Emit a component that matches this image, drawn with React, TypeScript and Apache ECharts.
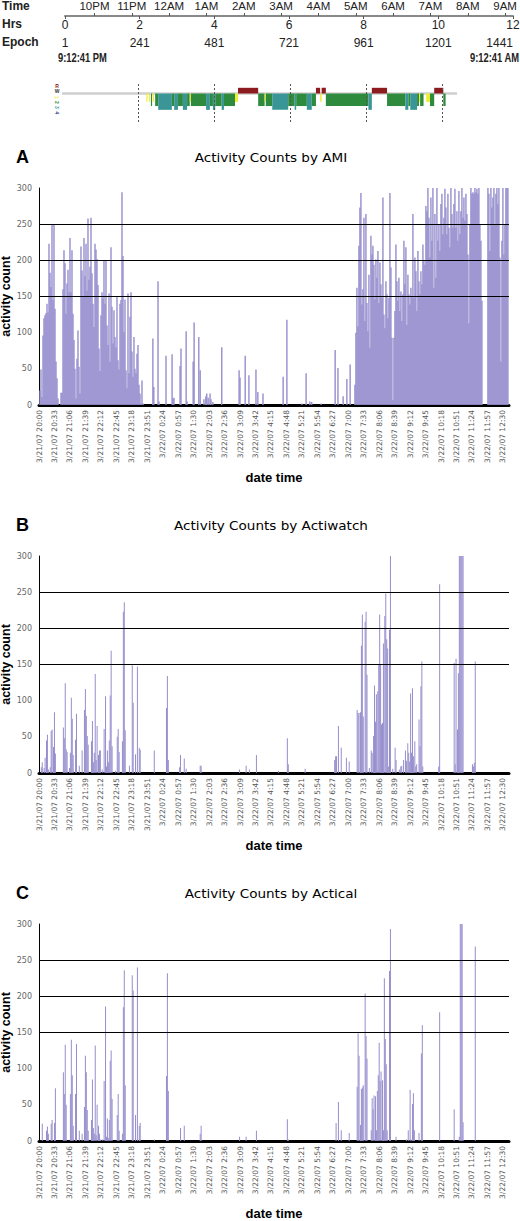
import React, { useEffect, useRef } from "react";
import * as echarts from "echarts";

// ---------- header (time / hrs / epoch) ----------
const clockLabels = ["10PM", "11PM", "12AM", "1AM", "2AM", "3AM", "4AM", "5AM", "6AM", "7AM", "8AM", "9AM"];
const firstClockOffsetHr = 0.7886; // 10PM is 47m19s after 9:12:41 PM
const hrsTicks = [0, 2, 4, 6, 8, 10, 12];
const epochLabels = ["1", "241", "481", "721", "961", "1201", "1441"];
const startLabel = "9:12:41 PM";
const endLabel = "9:12:41 AM";

// ---------- hypnogram ----------
const stageNames = ["R", "W", "1", "2", "3", "4"];
const stageLevel: Record<string, number> = { R: -1.5, W: 0, "1": 2.2, "2": 3.3, "3": 4.3, "4": 5.3 };
const stageColor: Record<string, string> = { R: "#8c1b1f", W: "#333333", "1": "#eeee30", "2": "#2e8a3c", "3": "#3a9696", "4": "#2a3a8c" };
const hypnoEndHr = 10.39;
const hypnoGuideHrs = [2, 4, 6, 8, 10];
const hypnoSegments: [number, number, string][] = [
  [2.22, 2.25, "1"], [2.29, 2.32, "1"], [2.34, 2.37, "2"], [2.39, 2.42, "1"], [2.45, 2.53, "2"],
  [2.53, 2.89, "3"], [2.89, 2.95, "2"], [2.95, 3.05, "3"], [3.05, 3.18, "2"], [3.18, 3.29, "3"],
  [3.29, 3.36, "2"], [3.36, 3.39, "1"], [3.39, 3.79, "2"], [3.79, 3.89, "3"], [3.89, 3.97, "2"],
  [3.97, 4.03, "3"], [4.03, 4.2, "2"], [4.2, 4.26, "3"], [4.26, 4.55, "2"], [4.55, 4.63, "1"],
  [4.63, 5.16, "R"], [5.16, 5.33, "2"], [5.33, 5.36, "1"], [5.36, 5.53, "2"], [5.53, 5.95, "3"],
  [5.95, 6.12, "2"], [6.12, 6.16, "3"], [6.16, 6.44, "2"], [6.44, 6.57, "3"], [6.57, 6.68, "2"],
  [6.68, 6.79, "R"], [6.79, 6.83, "1"], [6.83, 6.94, "R"], [6.94, 8.06, "2"], [8.06, 8.15, "3"],
  [8.15, 8.55, "R"], [8.55, 9.03, "2"], [9.03, 9.11, "3"], [9.11, 9.16, "2"], [9.16, 9.34, "3"],
  [9.34, 9.39, "2"], [9.39, 9.42, "1"], [9.42, 9.51, "2"], [9.58, 9.68, "1"], [9.68, 9.79, "2"],
  [9.79, 10.03, "R"], [10.03, 10.09, "2"],
];

// ---------- activity charts ----------
const dateTimeLabels = [
  "3/21/07 20:00", "3/21/07 20:33", "3/21/07 21:06", "3/21/07 21:39", "3/21/07 22:12", "3/21/07 22:45",
  "3/21/07 23:18", "3/21/07 23:51", "3/22/07 0:24", "3/22/07 0:57", "3/22/07 1:30", "3/22/07 2:03",
  "3/22/07 2:36", "3/22/07 3:09", "3/22/07 3:42", "3/22/07 4:15", "3/22/07 4:48", "3/22/07 5:21",
  "3/22/07 5:54", "3/22/07 6:27", "3/22/07 7:00", "3/22/07 7:33", "3/22/07 8:06", "3/22/07 8:39",
  "3/22/07 9:12", "3/22/07 9:45", "3/22/07 10:18", "3/22/07 10:51", "3/22/07 11:24", "3/22/07 11:57",
  "3/22/07 12:30",
];
const TICK_STEP_MIN = 33;
const X_MAX_MIN = 1003;
const yTicks = [0, 50, 100, 150, 200, 250, 300];
const gridLineValues = [150, 200, 250];

// AMI: consecutive readings (one every SAMPLE_MIN minutes) in the two active periods
const SAMPLE_MIN = 2.134;
const amiEveningStartMin = 2.1;
const amiEvening = [
  20, 49, 11, 96, 120, 124, 127, 140, 128, 223, 183, 163, 250, 145, 250, 133, 60, 37, 9, 0,
  0, 17, 17, 160, 214, 196, 126, 168, 187, 156, 231, 156, 214, 126, 90, 50, 9, 64, 103, 53,
  16, 219, 186, 150, 231, 178, 223, 158, 258, 173, 191, 259, 182, 140, 108, 223, 215, 202, 166, 78,
  47, 124, 156, 147, 200, 140, 200, 110, 83, 154, 60, 218, 136, 85, 131, 94, 80, 150, 62, 49,
  140, 145, 294, 206, 101, 146, 48, 23, 154, 44, 122, 156, 74, 39, 94, 50, 44, 71, 83, 28,
  16, 2, 34, 2,
];
const amiMorningStartMin = 674.2;
const amiMorning = [
  28, 100, 162, 109, 220, 273, 293, 139, 160, 259, 116, 264, 141, 102, 180, 79, 234, 208, 220, 194,
  146, 201, 176, 213, 141, 197, 167, 148, 287, 125, 106, 171, 153, 120, 148, 293, 190, 93, 7, 93,
  130, 222, 171, 144, 176, 130, 157, 116, 153, 227, 167, 218, 111, 180, 153, 139, 162, 150, 264, 148,
  204, 185, 130, 213, 171, 153, 185, 167, 222, 199, 194, 275, 268, 300, 259, 204, 287, 227, 300, 162,
  264, 176, 300, 227, 250, 213, 278, 292, 236, 259, 299, 273, 236, 292, 245, 218, 300, 264, 245, 278,
  299, 245, 268, 227, 296, 236, 268, 300, 259, 287, 255, 292, 264, 208, 113, 250, 300, 292, 294, 292,
  300, 294, 299, 292, 300, 250, 227, 144, 0, 0, 0, 0, 0, 300, 292, 213, 300, 273, 287, 300,
  250, 292, 300, 278, 300, 204, 60, 227, 300, 208, 250, 300, 300, 300,
];
// AMI: isolated counts during the night [minute after 20:00, count]
const amiNight: [number, number][] = [
  [243, 92], [245, 25], [254, 171], [256, 5], [271, 68], [284, 70], [286, 9], [288, 10],
  [301, 54], [303, 78], [314, 102], [316, 5], [329, 60], [331, 114], [341, 94], [344, 48],
  [352, 8], [356, 12], [358, 16], [361, 10], [365, 16], [367, 8], [371, 4], [390, 80],
  [427, 48], [429, 38], [440, 68], [448, 41], [463, 49], [467, 18], [478, 16], [521, 39],
  [529, 118], [561, 2], [570, 44], [578, 5], [582, 4], [602, 2], [632, 76], [638, 51],
  [649, 12], [657, 36], [664, 56],
];

const actiwatch: [number, number][] = [
  [5, 8], [7, 15], [11, 7], [13, 21], [16, 45], [18, 53], [20, 5], [24, 8], [26, 58], [28, 60],
  [31, 36], [33, 84], [35, 27], [52, 63], [54, 48], [56, 124], [58, 33], [60, 29], [65, 7], [67, 28],
  [69, 104], [71, 75], [73, 25], [78, 46], [80, 82], [86, 10], [92, 31], [97, 87], [99, 116], [101, 79],
  [103, 51], [105, 39], [112, 44], [114, 72], [116, 15], [118, 28], [120, 137], [122, 18], [124, 65], [127, 25],
  [129, 31], [131, 31], [135, 5], [139, 61], [142, 106], [144, 9], [146, 31], [148, 15], [150, 45], [152, 107],
  [154, 169], [156, 37], [163, 3], [167, 50], [169, 61], [171, 29], [178, 44], [180, 223], [182, 236], [184, 59],
  [193, 10], [199, 149], [201, 97], [206, 26], [210, 147], [214, 35], [216, 32], [246, 31], [272, 90], [274, 134],
  [276, 18], [300, 8], [302, 25], [310, 20], [314, 6], [344, 10], [346, 10], [428, 5], [442, 10], [449, 5],
  [464, 25], [511, 3], [530, 48], [532, 12], [568, 6], [631, 18], [633, 23], [635, 23], [639, 65], [645, 35],
  [656, 21], [662, 16], [679, 87], [681, 83], [683, 83], [686, 84], [688, 176], [690, 219], [692, 78], [696, 209],
  [698, 223], [700, 136], [705, 7], [709, 31], [711, 28], [714, 51], [716, 121], [718, 71], [720, 109], [723, 113],
  [725, 150], [727, 219], [729, 150], [731, 67], [733, 69], [735, 179], [738, 217], [740, 248], [742, 185], [744, 172],
  [746, 9], [748, 198], [750, 300], [755, 6], [760, 35], [762, 18], [769, 5], [772, 9], [774, 10], [778, 18],
  [782, 31], [784, 17], [787, 41], [789, 28], [791, 16], [793, 110], [795, 28], [797, 117], [799, 23], [802, 44],
  [804, 9], [806, 12], [811, 74], [813, 37], [815, 120], [817, 154], [819, 9], [853, 9], [855, 261], [886, 152],
  [888, 12], [890, 158], [893, 60], [895, 138], [897, 300], [899, 300], [901, 300], [903, 300], [905, 300], [925, 12],
  [927, 9], [929, 14], [931, 154],
];

const actical: [number, number][] = [
  [7, 24], [16, 14], [18, 20], [20, 10], [26, 24], [28, 29], [33, 25], [35, 73], [52, 95], [54, 65],
  [56, 133], [58, 50], [67, 65], [69, 140], [71, 91], [73, 21], [78, 65], [80, 134], [86, 14], [92, 10],
  [97, 47], [99, 118], [101, 95], [103, 43], [105, 14], [112, 29], [114, 85], [116, 18], [118, 10], [120, 132],
  [122, 8], [124, 50], [127, 21], [129, 10], [131, 2], [135, 2], [139, 83], [142, 186], [144, 6], [146, 31],
  [148, 4], [150, 29], [152, 111], [154, 125], [156, 58], [167, 36], [169, 65], [171, 14], [178, 10], [180, 185],
  [182, 236], [184, 77], [199, 229], [201, 208], [206, 36], [210, 240], [214, 21], [216, 25], [246, 2], [272, 90],
  [274, 232], [276, 69], [302, 18], [310, 21], [344, 10], [346, 21], [428, 6], [442, 6], [464, 14], [530, 30],
  [532, 2], [634, 25], [639, 54], [645, 15], [662, 11], [679, 75], [681, 149], [683, 118], [686, 22], [688, 72],
  [690, 74], [692, 77], [696, 204], [698, 145], [700, 114], [709, 15], [711, 59], [713, 44], [715, 63], [718, 62],
  [720, 15], [722, 69], [724, 91], [726, 136], [728, 83], [730, 96], [733, 84], [735, 15], [737, 225], [739, 141],
  [741, 106], [743, 15], [748, 235], [750, 293], [762, 6], [784, 2], [788, 15], [792, 71], [794, 2], [797, 51],
  [799, 66], [801, 15], [811, 11], [816, 121], [818, 160], [855, 178], [886, 44], [897, 6], [899, 300], [901, 300],
  [903, 300], [905, 26], [931, 269],
];

const panels = [
  { letter: "A", title: "Activity Counts by AMI", top: 188 },
  { letter: "B", title: "Activity Counts by Actiwatch", top: 556 },
  { letter: "C", title: "Activity Counts by Actical", top: 924 },
];

const BAR_COLOR = "#968ecd";
const NARROW = '"Liberation Sans Narrow", "Arial Narrow", "Liberation Sans", Arial, sans-serif';
const ARIAL = '"Liberation Sans", Arial, sans-serif';
const WIDE = '"DejaVu Sans", Verdana, sans-serif';

function buildAmi(): [number, number][] {
  const ev = amiEvening.map((v, i) => [amiEveningStartMin + i * SAMPLE_MIN, v] as [number, number]);
  const mo = amiMorning.map((v, i) => [amiMorningStartMin + i * SAMPLE_MIN, v] as [number, number]);
  return [...ev, ...amiNight, ...mo];
}

function buildOption(): any {
  const PLOT_H = 217;
  const noBounds = { containLabel: false, outerBoundsMode: "none" };
  const grids: any[] = [
    { left: 65, top: 15, width: 448, height: 1, ...noBounds },
    { left: 62, top: 84, width: 395, height: 38, ...noBounds },
    ...panels.map((p) => ({ left: 39, top: p.top, width: 470, height: PLOT_H, ...noBounds })),
  ];

  const clockTicks = clockLabels.map((_, i) => firstClockOffsetHr + i);

  const xAxes: any[] = [
    {
      type: "value", gridIndex: 0, position: "top", min: 0, max: 12,
      axisLine: { show: true, lineStyle: { color: "#8a8a8a", width: 2 } },
      axisTick: { show: true, inside: false, length: 3, customValues: clockTicks, lineStyle: { color: "#555" } },
      axisLabel: {
        customValues: clockTicks, margin: 3, fontSize: 11.5, color: "#222", fontFamily: NARROW,
        formatter: (v: number) => clockLabels[Math.round(v - firstClockOffsetHr)] ?? "",
      },
      splitLine: { show: false },
    },
    {
      type: "value", gridIndex: 0, position: "bottom", min: 0, max: 12, interval: 2,
      axisLine: { show: false },
      axisTick: { show: true, inside: false, length: 3, lineStyle: { color: "#555" } },
      axisLabel: { margin: 3, fontSize: 12, color: "#222", fontFamily: NARROW,
        formatter: (v: number) => (hrsTicks.includes(v) ? String(v) : "") },
      splitLine: { show: false },
    },
    {
      type: "value", gridIndex: 0, position: "bottom", offset: 18, min: 0, max: 12, interval: 2,
      axisLine: { show: false }, axisTick: { show: false },
      axisLabel: { margin: 3, fontSize: 12, color: "#222", fontFamily: NARROW, alignMaxLabel: "right",
        formatter: (v: number) => epochLabels[hrsTicks.indexOf(v)] ?? "" },
      splitLine: { show: false },
    },
    { type: "value", gridIndex: 1, min: 0, max: hypnoEndHr, show: false },
    ...panels.map((_, i) => ({
      type: "value", gridIndex: 2 + i, min: 0, max: X_MAX_MIN, interval: TICK_STEP_MIN,
      axisLine: { show: true, onZero: false, lineStyle: { color: "#000", width: 3 } },
      axisTick: { show: false },
      splitLine: { show: false },
      axisLabel: {
        rotate: 90, margin: 5, fontSize: 7.5, color: "#555", fontFamily: WIDE, showMaxLabel: false,
        formatter: (v: number) => (v % TICK_STEP_MIN === 0 ? dateTimeLabels[v / TICK_STEP_MIN] ?? "" : ""),
      },
      name: "date time", nameLocation: "middle", nameGap: 66,
      nameTextStyle: { fontWeight: "bold", fontSize: 13, color: "#000", fontFamily: ARIAL },
    })),
  ];

  const yAxes: any[] = [
    { type: "value", gridIndex: 0, show: false, min: 0, max: 1 },
    { type: "value", gridIndex: 1, show: false, inverse: true, min: -2.5, max: 7.5 },
    ...panels.map((_, i) => ({
      type: "value", gridIndex: 2 + i, min: yTicks[0], max: yTicks[yTicks.length - 1], interval: 50,
      axisLine: { show: true, onZero: false, lineStyle: { color: "#000", width: 1 } },
      axisTick: { show: false },
      splitLine: { show: false },
      axisLabel: { margin: 7, fontSize: 8, color: "#666", fontFamily: WIDE },
      name: "activity count", nameLocation: "middle", nameGap: 27, nameMoveOverlap: false,
      nameTextStyle: { fontWeight: "bold", fontSize: 12.5, color: "#000", fontFamily: ARIAL },
    })),
  ];

  const datasets = [buildAmi(), actiwatch, actical];
  const barWidths = [1.4, 1, 1];

  const barSeries = datasets.map((d, i) => ({
    type: "bar", xAxisIndex: 4 + i, yAxisIndex: 2 + i, data: d, barWidth: barWidths[i],
    itemStyle: { color: BAR_COLOR }, silent: true, clip: true,
    markLine: {
      silent: true, symbol: "none", label: { show: false },
      lineStyle: { color: "#000", width: 1, type: "solid" },
      data: gridLineValues.map((v) => ({ yAxis: v })),
    },
  }));

  const hypnoData = hypnoSegments.map(([s, e, st]) => ({
    value: [s, e, stageLevel[st]],
    itemStyle: { color: stageColor[st] },
  }));

  const series: any[] = [
    {
      type: "line", xAxisIndex: 3, yAxisIndex: 1, data: [[0, 0], [hypnoEndHr, 0]],
      symbol: "none", lineStyle: { color: "#cfcfcf", width: 2.5 }, silent: true, z: 1,
      markLine: {
        silent: true, symbol: "none", label: { show: false },
        lineStyle: { color: "#555", width: 1, type: [2, 2] },
        data: hypnoGuideHrs.map((h) => ({ xAxis: h })),
      },
    },
    {
      type: "custom", xAxisIndex: 3, yAxisIndex: 1, data: hypnoData, z: 3, silent: true,
      encode: { x: [0, 1], y: 2 },
      renderItem: (params: any, api: any) => {
        const s = api.value(0), e = api.value(1), lvl = api.value(2);
        const p0 = api.coord([s, 0]);
        const p1 = api.coord([e, lvl]);
        return {
          type: "rect",
          shape: { x: p0[0], y: Math.min(p0[1], p1[1]), width: Math.max(1, p1[0] - p0[0]), height: Math.abs(p1[1] - p0[1]) },
          style: { fill: api.visual("color") },
        };
      },
    },
    ...barSeries,
  ];

  const stageLabelY = [86, 90.5, 97.5, 102.5, 107.5, 113];
  const bold12 = `bold 12px ${NARROW}`;
  const graphic: any[] = [
    { type: "text", x: 2, y: 6, style: { text: "Time", font: bold12, fill: "#222", verticalAlign: "middle" } },
    { type: "text", x: 2, y: 24, style: { text: "Hrs", font: bold12, fill: "#222", verticalAlign: "middle" } },
    { type: "text", x: 2, y: 42, style: { text: "Epoch", font: bold12, fill: "#222", verticalAlign: "middle" } },
    { type: "text", x: 58, y: 58, scaleX: 0.78, style: { text: startLabel, font: bold12, fill: "#222", verticalAlign: "middle" } },
    { type: "text", x: 519, y: 58, scaleX: 0.78, style: { text: endLabel, font: bold12, fill: "#222", align: "right", verticalAlign: "middle" } },
    ...stageNames.map((n, i) => ({
      type: "text", x: 57, y: stageLabelY[i], rotation: i > 1 ? -Math.PI / 2 : 0,
      style: { text: n, font: `bold 5px ${ARIAL}`, fill: stageColor[n], align: "center", verticalAlign: "middle" },
    })),
  ];
  panels.forEach((p) => {
    graphic.push({ type: "text", x: 16, y: p.top - 31, style: {
      text: p.letter, font: `bold 18px ${ARIAL}`, fill: "#000", verticalAlign: "middle" } });
    graphic.push({ type: "text", x: 271, y: p.top - 30, scaleX: 1.18, style: {
      text: p.title, font: `11.5px ${WIDE}`, fill: "#000", align: "center", verticalAlign: "middle" } });
  });

  return {
    animation: false,
    backgroundColor: "#ffffff",
    grid: grids,
    xAxis: xAxes,
    yAxis: yAxes,
    series,
    graphic,
  };
}

export default function App() {
  const ref = useRef<HTMLDivElement>(null);
  useEffect(() => {
    if (!ref.current) return;
    const chart = echarts.init(ref.current, undefined, { renderer: "svg" });
    chart.setOption(buildOption());
    return () => chart.dispose();
  }, []);
  return (
    <div
      ref={ref}
      style={{ position: "absolute", left: 0, top: 0, width: 520, height: 1221, background: "#fff" }}
    />
  );
}
